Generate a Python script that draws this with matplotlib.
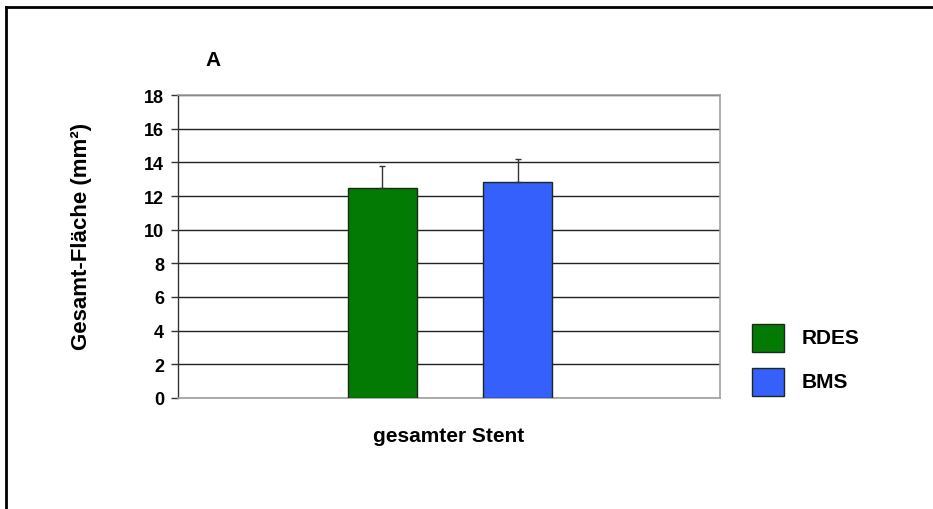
import matplotlib.pyplot as plt
from matplotlib.lines import Line2D
from matplotlib.patches import Rectangle

plt.rcParams['font.family'] = ['Liberation Sans', 'DejaVu Sans']
plt.rcParams['font.weight'] = 'bold'

series = ['RDES', 'BMS']
means = [12.5, 12.85]
errors = [1.3, 1.35]
colors = ['#037A03', '#3560FB']
category = 'gesamter Stent'
yticks = list(range(0, 19, 2))

fig = plt.figure(figsize=(9.33, 5.10), dpi=100)
ax = fig.add_axes([178 / 933, 1 - 399 / 510, 542 / 933, 303 / 510])

offsets = [-0.123, 0.127]
width = 0.127
for off, m, e, c in zip(offsets, means, errors, colors):
    ax.bar(off, m, width=width, color=c, edgecolor='#1a2a1a', linewidth=1.0, zorder=3)
    ax.errorbar(off, m, yerr=[[0], [e]], fmt='none', ecolor='#333333',
                elinewidth=1.0, capsize=2.5, capthick=1.0, zorder=4)

ax.set_xlim(-0.5, 0.5)
ax.set_ylim(0, 18)
ax.set_yticks(yticks)
ax.set_yticklabels([str(t) for t in yticks], fontsize=13, fontweight='bold')
ax.set_xticks([0])
ax.set_xticklabels([category], fontsize=15, fontweight='bold')
ax.tick_params(axis='x', length=0, pad=20)
ax.tick_params(axis='y', length=5, width=1, direction='out', pad=5, color='#333333')

ax.yaxis.grid(True, color='#222222', linewidth=1.0, zorder=0)
ax.set_axisbelow(True)
for s in ['top', 'right', 'bottom']:
    ax.spines[s].set_color('#a0a0a0')
    ax.spines[s].set_linewidth(1.2)
ax.spines['left'].set_color('#333333')
ax.spines['left'].set_linewidth(1.0)

ax.set_ylabel('Gesamt-Fläche (mm²)', fontsize=16, fontweight='bold')
ax.yaxis.set_label_coords(-0.159, 0.535)

fig.text(213 / 933, 1 - 61 / 510, 'A', fontsize=15, fontweight='bold',
         ha='center', va='center')

# legend boxes drawn at figure level
leg_y = [339, 383]
for yc, lab, c in zip(leg_y, series, colors):
    fig.patches.append(Rectangle((752 / 933, 1 - (yc + 14) / 510), 32 / 933, 28 / 510,
                                 transform=fig.transFigure, facecolor=c,
                                 edgecolor='#1a2a1a', linewidth=1.0))
    fig.text(802 / 933, 1 - yc / 510, lab, fontsize=15, fontweight='bold',
             ha='left', va='center')

# outer frame
fig.add_artist(Line2D([6 / 933, 6 / 933], [0, 1 - 8 / 510], color='black',
                      linewidth=2, transform=fig.transFigure))
fig.add_artist(Line2D([6 / 933, 1], [1 - 8 / 510, 1 - 8 / 510], color='black',
                      linewidth=2, transform=fig.transFigure))

fig.savefig('out.png', dpi=100)
